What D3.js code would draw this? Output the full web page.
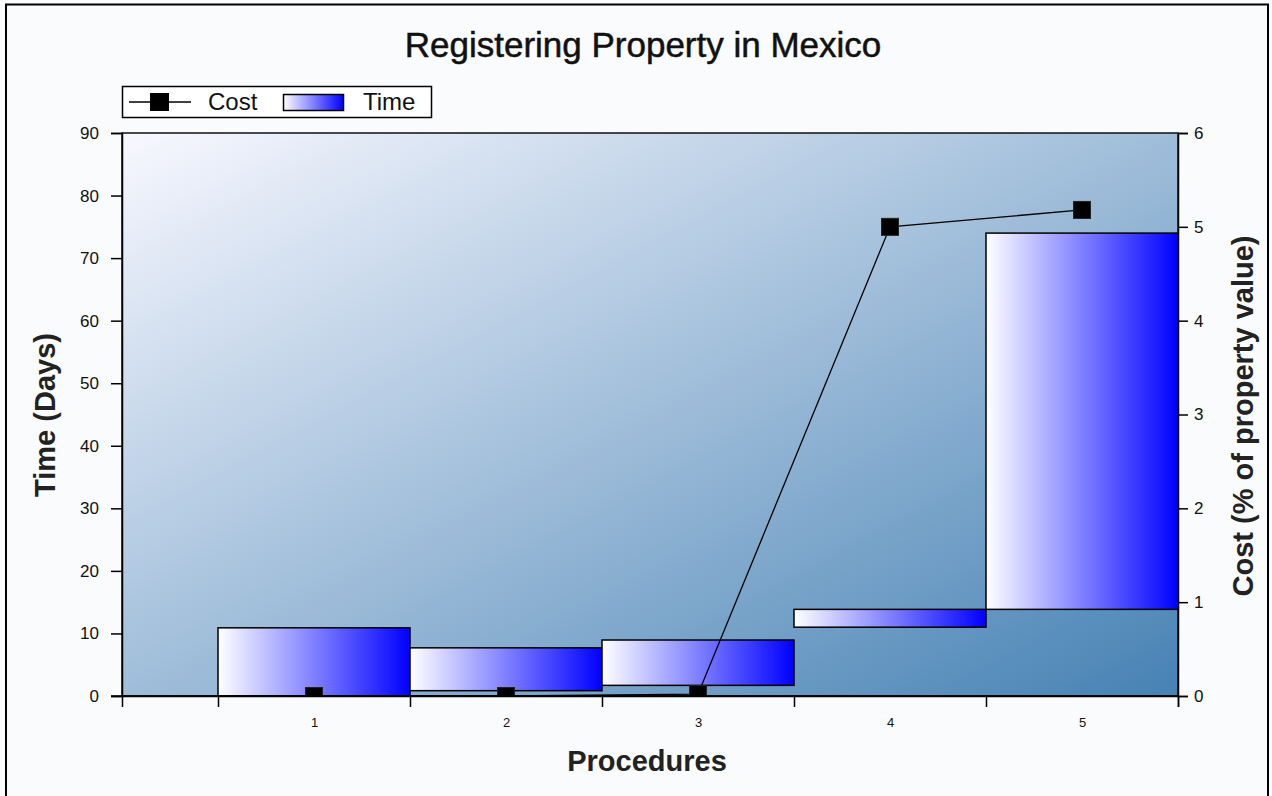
<!DOCTYPE html>
<html><head><meta charset="utf-8">
<script src="https://cdn.jsdelivr.net/npm/d3@7"></script>
<style>body{margin:0;background:#fafbfd;} svg{display:block}</style>
</head><body>
<svg id="chart" width="1272" height="796"></svg>
<script>
// ---- data ----
const categories = ["1", "2", "3", "4", "5"];
const timeStart = [0, 0.85, 1.7, 11, 13.85];
const timeEnd = [10.9, 7.7, 8.95, 13.85, 74];
const cost = [0, 0, 0.02, 5, 5.18];
const leftTicks = [0, 10, 20, 30, 40, 50, 60, 70, 80, 90];
const rightTicks = [0, 1, 2, 3, 4, 5, 6];
const titleText = "Registering Property in Mexico";
const xTitle = "Procedures";
const yLeftTitle = "Time (Days)";
const yRightTitle = "Cost (% of property value)";

// ---- layout ----
const W = 1272, H = 796;
const L = 122, R = 1178, T = 133, B = 696;
const font = "'Liberation Sans', Arial, sans-serif";

const svg = d3.select("#chart");
const defs = svg.append("defs");

const bg = defs.append("linearGradient").attr("id", "bgGrad")
  .attr("x1", 0).attr("y1", 0).attr("x2", 1).attr("y2", 1);
bg.append("stop").attr("offset", 0).attr("stop-color", "#f8f8ff");
bg.append("stop").attr("offset", 1).attr("stop-color", "#4682b4");

const barG = defs.append("linearGradient").attr("id", "barGrad")
  .attr("x1", 0).attr("y1", 0).attr("x2", 1).attr("y2", 0);
barG.append("stop").attr("offset", 0).attr("stop-color", "#ffffff");
barG.append("stop").attr("offset", 1).attr("stop-color", "#0000ff");

defs.append("clipPath").attr("id", "plotClip").append("rect")
  .attr("x", L).attr("y", T).attr("width", R - L).attr("height", B - T);

// page bg + frame
svg.append("rect").attr("width", W).attr("height", H).attr("fill", "#fafbfd");
svg.append("rect").attr("x", 6).attr("y", 4.5).attr("width", 1262).attr("height", 900)
  .attr("fill", "none").attr("stroke", "#000").attr("stroke-width", 2);

// scales
const x = d3.scaleLinear().domain([0, categories.length + 0.5]).range([L, R]);
const yL = d3.scaleLinear().domain([0, 90]).range([B, T]);
const yR = d3.scaleLinear().domain([0, 6]).range([B, T]);

// plot background
svg.append("rect").attr("x", L).attr("y", T).attr("width", R - L).attr("height", B - T)
  .attr("fill", "url(#bgGrad)");

// bars
svg.append("g").selectAll("rect").data(categories).join("rect")
  .attr("x", (d, i) => x(i + 0.5))
  .attr("width", (d, i) => x(i + 1.5) - x(i + 0.5))
  .attr("y", (d, i) => yL(timeEnd[i]))
  .attr("height", (d, i) => yL(timeStart[i]) - yL(timeEnd[i]))
  .attr("fill", "url(#barGrad)")
  .attr("stroke", "#000").attr("stroke-width", 1.5);

// plot frame
svg.append("rect").attr("x", L).attr("y", T).attr("width", R - L).attr("height", B - T)
  .attr("fill", "none").attr("stroke", "#111").attr("stroke-width", 1.5);

// cost line
const lg = svg.append("g").attr("clip-path", "url(#plotClip)");
const line = d3.line().x((d, i) => x(i + 1)).y(d => yR(d));
lg.append("path").datum(cost).attr("d", line).attr("fill", "none")
  .attr("stroke", "#000").attr("stroke-width", 1.3);
const ms = 17;
lg.selectAll("rect.m").data(cost).join("rect").attr("class", "m")
  .attr("x", (d, i) => x(i + 1) - ms / 2).attr("y", d => yR(d) - ms / 2)
  .attr("width", ms).attr("height", ms).attr("fill", "#000").attr("stroke", "#222");

// axes
const axL = svg.append("g").attr("transform", `translate(${L},0)`)
  .call(d3.axisLeft(yL).tickValues(leftTicks).tickSize(11).tickPadding(12).tickFormat(d3.format("d")));
const axR = svg.append("g").attr("transform", `translate(${R},0)`)
  .call(d3.axisRight(yR).tickValues(rightTicks).tickSize(10).tickPadding(6).tickFormat(d3.format("d")));
const bounds = d3.range(0.5, categories.length + 1, 1);
const axB = svg.append("g").attr("transform", `translate(0,${B})`)
  .call(d3.axisBottom(x).tickValues(bounds).tickSize(11).tickFormat(""));
const axBL = svg.append("g").attr("transform", `translate(0,${B})`)
  .call(d3.axisBottom(x).tickValues(d3.range(1, categories.length + 1)).tickSize(0).tickPadding(22)
    .tickFormat(d => categories[d - 1]));
axBL.select(".domain").remove();
svg.append("line").attr("x1", L - 11).attr("x2", R).attr("y1", B).attr("y2", B)
  .attr("stroke", "#000").attr("stroke-width", 1.5);

[axL, axR, axB].forEach(a => {
  a.selectAll("path.domain").attr("stroke", "#000").attr("stroke-width", 1.5);
  a.selectAll(".tick line").attr("stroke", "#000").attr("stroke-width", 1.5);
});
[axL, axR].forEach(a => a.selectAll("text").attr("font-family", font).attr("font-size", 17).attr("fill", "#111"));
axBL.selectAll("text").attr("font-family", font).attr("font-size", 13).attr("fill", "#111");

// titles
svg.append("text").attr("x", 643).attr("y", 57).attr("text-anchor", "middle")
  .attr("font-family", font).attr("font-size", 35).attr("fill", "#111")
  .attr("stroke", "#111").attr("stroke-width", 0.5).text(titleText);
svg.append("text").attr("x", 647).attr("y", 771).attr("text-anchor", "middle")
  .attr("font-family", font).attr("font-weight", "bold").attr("font-size", 29).attr("fill", "#222").text(xTitle);
svg.append("text").attr("transform", "translate(55,415) rotate(-90)").attr("text-anchor", "middle")
  .attr("font-family", font).attr("font-weight", "bold").attr("font-size", 29).attr("fill", "#222").text(yLeftTitle);
svg.append("text").attr("transform", "translate(1253,416) rotate(-90)").attr("text-anchor", "middle")
  .attr("font-family", font).attr("font-weight", "bold").attr("font-size", 29).attr("fill", "#222").text(yRightTitle);

// legend
const leg = svg.append("g");
leg.append("rect").attr("x", 122.5).attr("y", 86.5).attr("width", 309).attr("height", 31)
  .attr("fill", "#fff").attr("stroke", "#000").attr("stroke-width", 1.5);
leg.append("line").attr("x1", 129).attr("x2", 191).attr("y1", 102).attr("y2", 102)
  .attr("stroke", "#000").attr("stroke-width", 1.5);
leg.append("rect").attr("x", 150).attr("y", 93).attr("width", 19).attr("height", 18).attr("fill", "#000");
leg.append("text").attr("x", 208).attr("y", 110).attr("font-family", font).attr("font-size", 24)
  .attr("fill", "#111").text("Cost");
leg.append("rect").attr("x", 283.5).attr("y", 94.5).attr("width", 60).attr("height", 16)
  .attr("fill", "url(#barGrad)").attr("stroke", "#000").attr("stroke-width", 1.5);
leg.append("text").attr("x", 363).attr("y", 110).attr("font-family", font).attr("font-size", 24)
  .attr("fill", "#111").text("Time");
</script>
</body></html>
